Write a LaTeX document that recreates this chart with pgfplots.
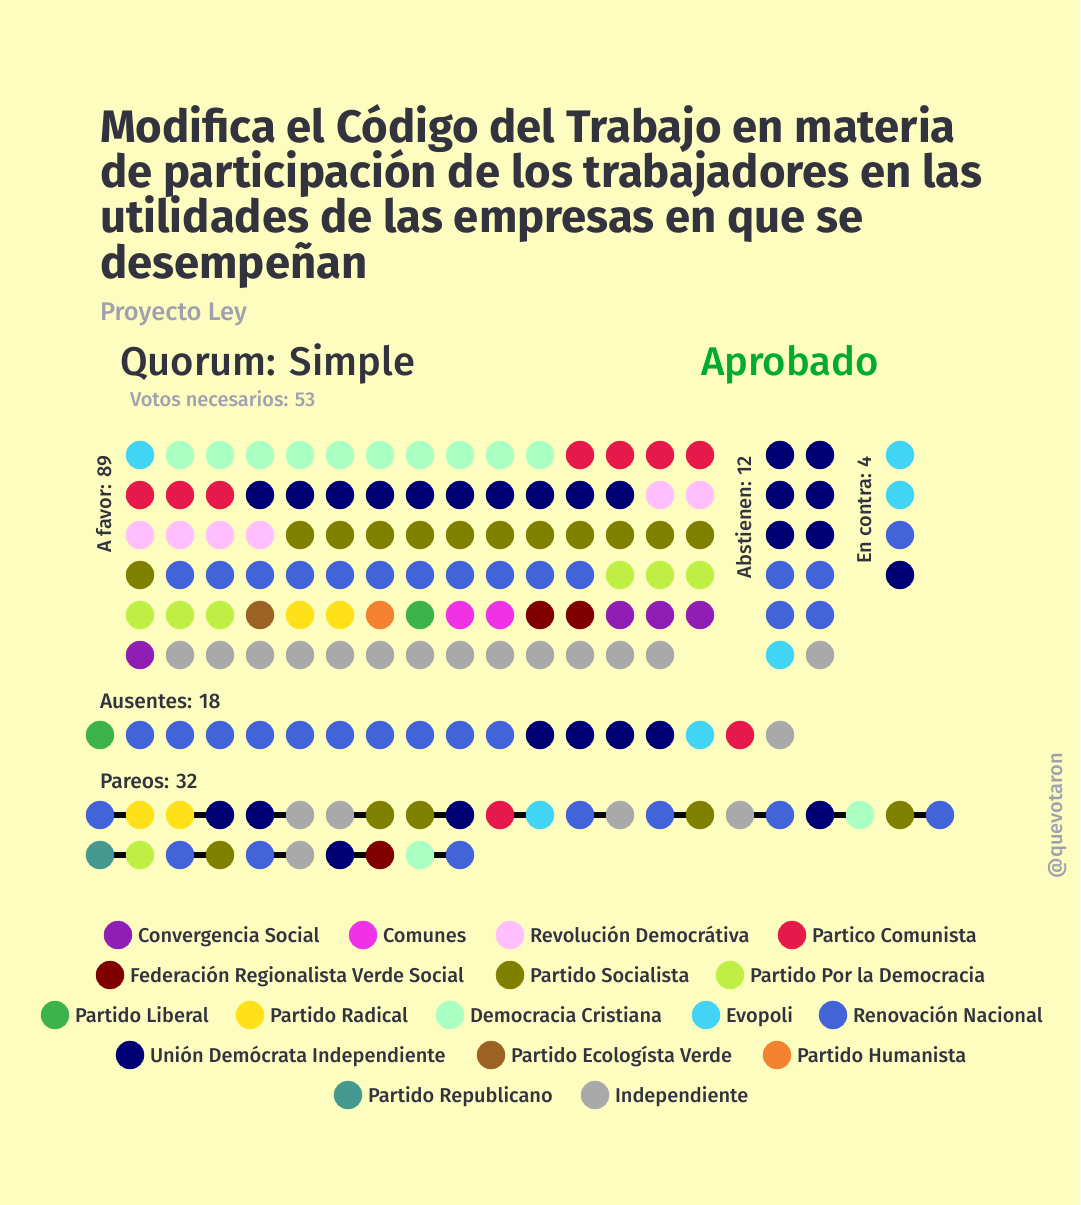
\documentclass[border=0pt]{standalone}
\usepackage{pgfplots}
\pgfplotsset{compat=1.18}
\usepackage{fontspec}
\setmainfont{Fira Sans}
\newfontfamily\medfont{Fira Sans Medium}
\definecolor{bgc}{RGB}{253,253,191}
\definecolor{txt}{RGB}{51,51,63}
\definecolor{gtxt}{RGB}{160,160,176}
\definecolor{aprob}{RGB}{0,170,51}
\definecolor{cEV}{RGB}{66,212,244}
\definecolor{cDC}{RGB}{170,255,195}
\definecolor{cPC}{RGB}{230,25,75}
\definecolor{cUDI}{RGB}{0,0,117}
\definecolor{cRD}{RGB}{255,190,255}
\definecolor{cPS}{RGB}{128,128,0}
\definecolor{cRN}{RGB}{67,99,216}
\definecolor{cPPD}{RGB}{191,239,69}
\definecolor{cECO}{RGB}{154,99,36}
\definecolor{cRAD}{RGB}{255,225,25}
\definecolor{cHUM}{RGB}{245,130,49}
\definecolor{cLIB}{RGB}{60,180,75}
\definecolor{cCOM}{RGB}{240,50,230}
\definecolor{cFRVS}{RGB}{128,0,0}
\definecolor{cCS}{RGB}{145,30,180}
\definecolor{cIND}{RGB}{169,169,169}
\definecolor{cREP}{RGB}{70,153,144}
\begin{document}
\begin{tikzpicture}
\fill[bgc] (0,0) rectangle (1080pt,1205pt);
\useasboundingbox (0,0) rectangle (1080pt,1205pt);
\begin{axis}[at={(0,0)}, anchor=south west, scale only axis, width=1080pt, height=1205pt,
  xmin=0, xmax=1080, ymin=0, ymax=1205, y dir=reverse, axis lines=none, clip=false,
  every axis plot/.append style={only marks, mark=*, mark size=14pt}]
% pareo connectors
\addplot[black, line width=5.5pt, no markers, sharp plot, unbounded coords=jump, mark=none] coordinates {
(100,815)(140,815)(120,nan)(180,815)(220,815)(200,nan)(260,815)(300,815)(280,nan)
(340,815)(380,815)(360,nan)(420,815)(460,815)(440,nan)(500,815)(540,815)(520,nan)
(580,815)(620,815)(600,nan)(660,815)(700,815)(680,nan)(740,815)(780,815)(760,nan)
(820,815)(860,815)(840,nan)(900,815)(940,815)(920,nan)
(100,855)(140,855)(120,nan)(180,855)(220,855)(200,nan)(260,855)(300,855)(280,nan)
(340,855)(380,855)(360,nan)(420,855)(460,855)};
% Evopoli
\addplot[cEV] coordinates {(140,455)(780,655)(900,455)(900,495)(700,735)(540,815)(706,1015)};
% Democracia Cristiana
\addplot[cDC] coordinates {(180,455)(220,455)(260,455)(300,455)(340,455)(380,455)(420,455)(460,455)(500,455)(540,455)(860,815)(420,855)(450,1015)};
% Partido Comunista
\addplot[cPC] coordinates {(580,455)(620,455)(660,455)(700,455)(140,495)(180,495)(220,495)(740,735)(500,815)(792,935)};
% UDI
\addplot[cUDI] coordinates {(260,495)(300,495)(340,495)(380,495)(420,495)(460,495)(500,495)(540,495)(580,495)(620,495)
(780,455)(820,455)(780,495)(820,495)(780,535)(820,535)(900,575)
(540,735)(580,735)(620,735)(660,735)(220,815)(260,815)(460,815)(820,815)(340,855)(130,1055)};
% Revolucion Democratica
\addplot[cRD] coordinates {(660,495)(700,495)(140,535)(180,535)(220,535)(260,535)(510,935)};
% Partido Socialista
\addplot[cPS] coordinates {(300,535)(340,535)(380,535)(420,535)(460,535)(500,535)(540,535)(580,535)(620,535)(660,535)(700,535)
(140,575)(380,815)(420,815)(700,815)(900,815)(220,855)(510,975)};
% Renovacion Nacional
\addplot[cRN] coordinates {(180,575)(220,575)(260,575)(300,575)(340,575)(380,575)(420,575)(460,575)(500,575)(540,575)(580,575)
(780,575)(820,575)(780,615)(820,615)(900,535)
(140,735)(180,735)(220,735)(260,735)(300,735)(340,735)(380,735)(420,735)(460,735)(500,735)
(100,815)(580,815)(660,815)(780,815)(940,815)(180,855)(260,855)(460,855)(833,1015)};
% PPD
\addplot[cPPD] coordinates {(620,575)(660,575)(700,575)(140,615)(180,615)(220,615)(140,855)(730,975)};
% Ecologista
\addplot[cECO] coordinates {(260,615)(491,1055)};
% Radical
\addplot[cRAD] coordinates {(300,615)(340,615)(140,815)(180,815)(250,1015)};
% Humanista
\addplot[cHUM] coordinates {(380,615)(777,1055)};
% Liberal
\addplot[cLIB] coordinates {(420,615)(100,735)(55,1015)};
% Comunes
\addplot[cCOM] coordinates {(460,615)(500,615)(363,935)};
% FRVS
\addplot[cFRVS] coordinates {(540,615)(580,615)(380,855)(110,975)};
% Convergencia Social
\addplot[cCS] coordinates {(620,615)(660,615)(700,615)(140,655)(118,935)};
% Independiente
\addplot[cIND] coordinates {(180,655)(220,655)(260,655)(300,655)(340,655)(380,655)(420,655)(460,655)(500,655)(540,655)(580,655)(620,655)(660,655)
(820,655)(780,735)(300,815)(340,815)(620,815)(740,815)(300,855)(595,1095)};
% Republicano
\addplot[cREP] coordinates {(100,855)(348,1095)};

% Titles
\begin{scope}[every node/.style={inner sep=0pt, outer sep=0pt}]
\node[anchor=base west, text=txt, font=\bfseries\fontsize{45.5}{46}\selectfont] at (axis cs:100,142) {Modifica el Código del Trabajo en materia};
\node[anchor=base west, text=txt, font=\bfseries\fontsize{45.5}{46}\selectfont] at (axis cs:100,187) {de participación de los trabajadores en las};
\node[anchor=base west, text=txt, font=\bfseries\fontsize{45.5}{46}\selectfont] at (axis cs:100,232) {utilidades de las empresas en que se};
\node[anchor=base west, text=txt, font=\bfseries\fontsize{45.5}{46}\selectfont] at (axis cs:100,278) {desempeñan};
\node[anchor=base west, text=gtxt, font=\medfont\fontsize{25.5}{26}\selectfont] at (axis cs:100,320) {Proyecto Ley};
\node[anchor=base west, text=txt, font=\medfont\fontsize{40}{40}\selectfont] at (axis cs:120,375) {Quorum: Simple};
\node[anchor=base west, text=aprob, font=\medfont\fontsize{40}{40}\selectfont] at (axis cs:701,375) {Aprobado};
\node[anchor=base west, text=gtxt, font=\medfont\fontsize{20}{20}\selectfont] at (axis cs:130,406) {Votos necesarios: 53};
\node[anchor=base east, rotate=90, text=txt, font=\medfont\fontsize{20}{20}\selectfont] at (axis cs:111,456) {A favor: 89};
\node[anchor=base east, rotate=90, text=txt, font=\medfont\fontsize{20}{20}\selectfont] at (axis cs:751,456) {Abstienen: 12};
\node[anchor=base east, rotate=90, text=txt, font=\medfont\fontsize{20}{20}\selectfont] at (axis cs:871,456) {En contra: 4};
\node[anchor=base east, rotate=90, text=gtxt, font=\medfont\fontsize{20}{20}\selectfont] at (axis cs:1062,753) {@quevotaron};
\node[anchor=base west, text=txt, font=\medfont\fontsize{21}{20}\selectfont] at (axis cs:100,708) {Ausentes: 18};
\node[anchor=base west, text=txt, font=\medfont\fontsize{21}{20}\selectfont] at (axis cs:100,788) {Pareos: 32};
% legend texts
\begin{scope}[every node/.append style={anchor=base west, text=txt, font=\medfont\fontsize{20}{20}\selectfont}]
\node at (axis cs:138,942) {Convergencia Social};
\node at (axis cs:383,942) {Comunes};
\node at (axis cs:530,942) {Revolución Democrátiva};
\node at (axis cs:812,942) {Partico Comunista};
\node at (axis cs:130,982) {Federación Regionalista Verde Social};
\node at (axis cs:530,982) {Partido Socialista};
\node at (axis cs:750,982) {Partido Por la Democracia};
\node at (axis cs:75,1022) {Partido Liberal};
\node at (axis cs:270,1022) {Partido Radical};
\node at (axis cs:470,1022) {Democracia Cristiana};
\node at (axis cs:726,1022) {Evopoli};
\node at (axis cs:853,1022) {Renovación Nacional};
\node at (axis cs:150,1062) {Unión Demócrata Independiente};
\node at (axis cs:511,1062) {Partido Ecologísta Verde};
\node at (axis cs:797,1062) {Partido Humanista};
\node at (axis cs:368,1102) {Partido Republicano};
\node at (axis cs:615,1102) {Independiente};
\end{scope}
\end{scope}
\end{axis}
\end{tikzpicture}
\end{document}
